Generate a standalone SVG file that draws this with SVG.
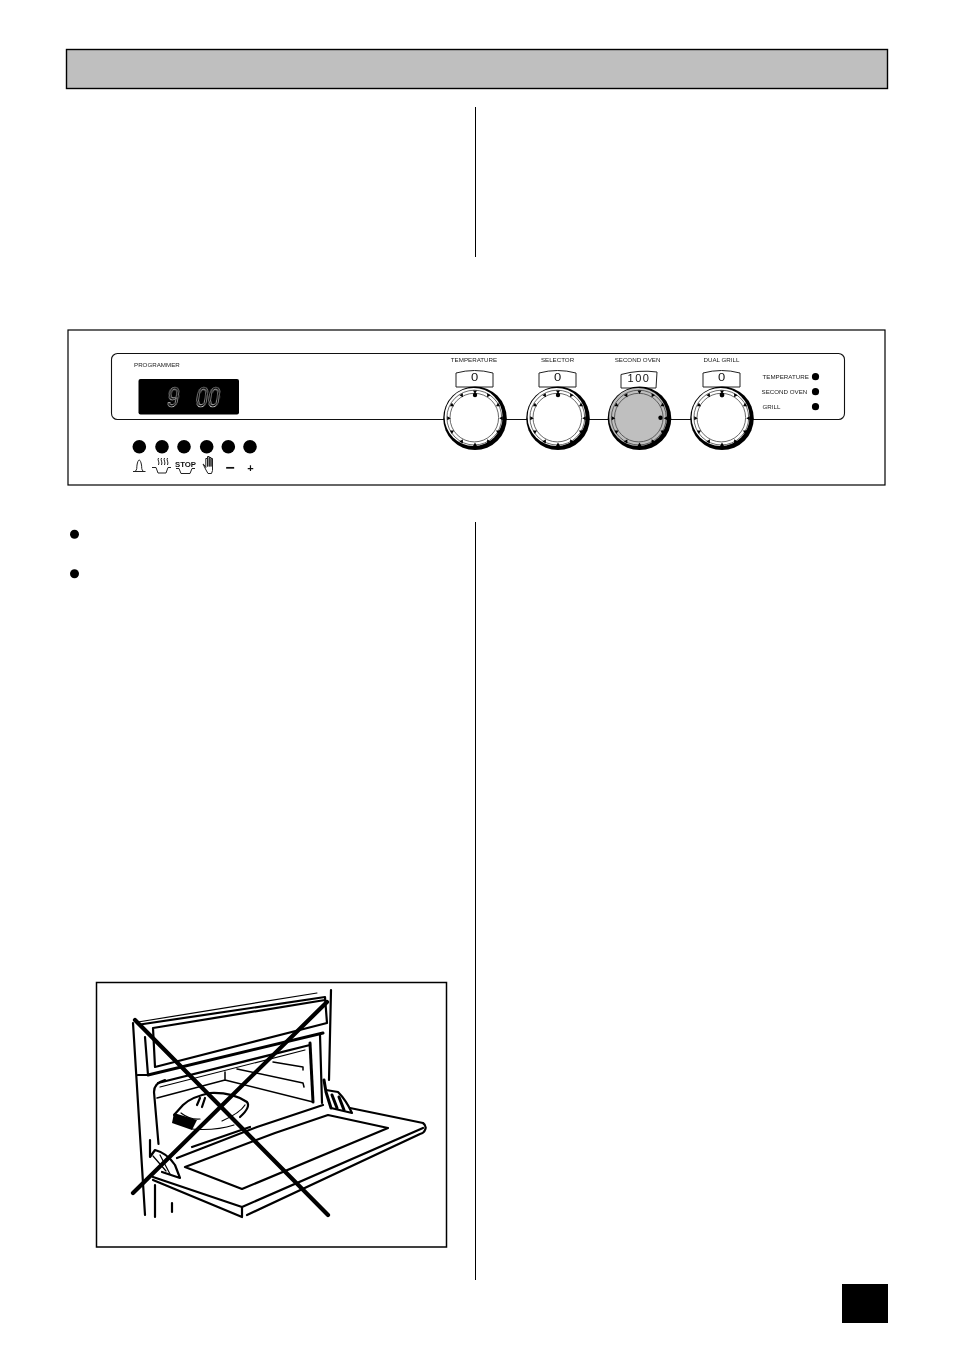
<svg xmlns="http://www.w3.org/2000/svg" xmlns:xlink="http://www.w3.org/1999/xlink" width="954" height="1351" viewBox="0 0 954 1351">
<style>
text{font-family:"Liberation Sans",Arial,sans-serif;fill:#111;filter:url(#gray)}
.lb{font-size:6.2px;fill:#222}
.mid{text-anchor:middle}
.ln{fill:none;stroke:#000;stroke-width:2.2;stroke-linecap:round;stroke-linejoin:round}
.th{fill:none;stroke:#000;stroke-width:1.2;stroke-linecap:round;stroke-linejoin:round}
.hv{fill:none;stroke:#000;stroke-width:3;stroke-linecap:round;stroke-linejoin:round}
.ic{fill:none;stroke:#222;stroke-width:1;stroke-linejoin:round}
.sc{fill:#fff;stroke:#222;stroke-width:1}
.xx{stroke:#000;stroke-width:4.2;stroke-linecap:round}
</style>
<defs>
<filter id="gray" x="-30%" y="-50%" width="160%" height="200%" color-interpolation-filters="sRGB"><feOffset dx="0" dy="0"/></filter>
<path id="t" d="M-2-27.800h4l-2 3.600z" fill="#000"/>
<g id="knob">
<circle r="31.800" fill="#000"/>
<circle cx="-1.400" cy="-1.400" r="29"/>
<circle cx="-.7" cy="-.7" r="27.400" fill="none" stroke="#444" stroke-width=".8"/>
<circle cx="-.7" cy="-.7" r="24.300" fill="none" stroke="#444" stroke-width=".8"/>
<use xlink:href="#t" href="#t" transform="rotate(0)"/>
<use xlink:href="#t" href="#t" transform="rotate(30)"/>
<use xlink:href="#t" href="#t" transform="rotate(60)"/>
<use xlink:href="#t" href="#t" transform="rotate(90)"/>
<use xlink:href="#t" href="#t" transform="rotate(120)"/>
<use xlink:href="#t" href="#t" transform="rotate(150)"/>
<use xlink:href="#t" href="#t" transform="rotate(180)"/>
<use xlink:href="#t" href="#t" transform="rotate(210)"/>
<use xlink:href="#t" href="#t" transform="rotate(240)"/>
<use xlink:href="#t" href="#t" transform="rotate(270)"/>
<use xlink:href="#t" href="#t" transform="rotate(300)"/>
<use xlink:href="#t" href="#t" transform="rotate(330)"/>
</g>
</defs>
<rect width="954" height="1351" fill="#fff"/>
<g id="header"><rect x="66.500" y="49.500" width="821" height="39" fill="#bfbfbf" stroke="#000" stroke-width="1.400"/></g>
<g id="dividers" stroke="#000" stroke-width="1">
<line x1="475.500" y1="107" x2="475.500" y2="257"/>
<line x1="475.500" y1="522" x2="475.500" y2="1280"/>
</g>
<g id="panel">
<rect x="68" y="330" width="817" height="155" fill="#fff" stroke="#000" stroke-width="1.200"/>
<rect x="111.500" y="353.500" width="733" height="66" rx="6" fill="none" stroke="#111" stroke-width="1.100"/>
<text class="lb" x="134" y="367">PROGRAMMER</text>
<rect x="138.500" y="379" width="100.500" height="35.500" rx="2" fill="#000"/>
<text transform="translate(166,407) skewX(-9) scale(.72,1)" font-size="30" style="fill:#000;stroke:#ddd;stroke-width:.7;word-spacing:15px">9 00</text>
</g>
<g id="buttons" fill="#000">
<circle cx="139.300" cy="446.700" r="6.800"/><circle cx="162" cy="446.700" r="6.800"/><circle cx="184" cy="446.700" r="6.800"/><circle cx="206.700" cy="446.700" r="6.800"/><circle cx="228.300" cy="446.700" r="6.800"/><circle cx="250" cy="446.700" r="6.800"/>
</g>
<g id="icons">
<path class="ic" d="M133 471.500h12.500M135 471.500c2.500-2 1.500-4 2-6.500c.5-3 1.300-5 2.200-5s1.800 2 2.300 5c.5 2.500-.5 4.500 2 6.500"/>
<path class="ic" d="M152 467.500h4l2 5.500h8l2-5.500h3M158.500 458c-1.500 2 1.500 4 0 7M161.500 458c-1.500 2 1.500 4 0 7M164.500 458c-1.500 2 1.500 4 0 7M167.500 458c-1.500 2 1.500 4 0 7"/>
<text x="185.500" y="466.500" class="mid" font-size="7.800" font-weight="bold">STOP</text>
<path class="ic" d="M176 468.500h3l2 5h9l2-5h3"/>
<path class="ic" d="M203 464l3 6l2 3.500h3.500l1-3v-12h-1.500v8v-9h-1.800v9v-10h-1.700v10v-8h-1.700v9l-2-3z"/>
<text x="230" y="473" class="mid" font-size="16" font-weight="bold">−</text>
<text x="250.500" y="472" class="mid" font-size="11" font-weight="bold">+</text>
</g>
<g id="knob-temperature">
<text class="lb mid" x="474" y="362">TEMPERATURE</text>
<path class="sc" d="M456 387v-14q18.500-5 37 0v14z"/>
<text transform="translate(474.500,381) scale(1.300,1)" class="mid" font-size="10">0</text>
<use xlink:href="#knob" href="#knob" x="475" y="418.300" fill="#fff"/>
<circle cx="475" cy="395" r="2.200" fill="#000"/>
</g>
<g id="knob-selector">
<text class="lb mid" x="557.500" y="362">SELECTOR</text>
<path class="sc" d="M539 387v-14q18.500-5 37 0v14z"/>
<text transform="translate(557.500,381) scale(1.300,1)" class="mid" font-size="10">0</text>
<use xlink:href="#knob" href="#knob" x="558" y="418.300" fill="#fff"/>
<circle cx="558" cy="395" r="2.200" fill="#000"/>
</g>
<g id="knob-second-oven">
<text class="lb mid" x="637.500" y="362">SECOND OVEN</text>
<path class="sc" d="M621 388v-13.500q18-5 36-2.500l-1 16z"/>
<text x="639" y="382" class="mid" font-size="11" letter-spacing="1.500">100</text>
<use xlink:href="#knob" href="#knob" x="639.500" y="418.300" fill="#bfbfbf"/>
<circle cx="660.500" cy="417.700" r="2.200" fill="#000"/>
</g>
<g id="knob-dual-grill">
<text class="lb mid" x="721.500" y="362">DUAL GRILL</text>
<path class="sc" d="M703 387v-14q18.500-5 37 0v14z"/>
<text transform="translate(721.500,381) scale(1.300,1)" class="mid" font-size="10">0</text>
<use xlink:href="#knob" href="#knob" x="722" y="418.300" fill="#fff"/>
<circle cx="722" cy="395" r="2.400" fill="#000"/>
</g>
<g id="indicators">
<text class="lb" x="762.500" y="379">TEMPERATURE</text><circle cx="815.500" cy="376.700" r="3.600" fill="#000"/>
<text class="lb" x="761.500" y="394">SECOND OVEN</text><circle cx="815.500" cy="391.700" r="3.600" fill="#000"/>
<text class="lb" x="762.500" y="409">GRILL</text><circle cx="815.500" cy="406.700" r="3.600" fill="#000"/>
</g>
<g id="bullets" fill="#000"><circle cx="74.500" cy="534.300" r="4.500"/><circle cx="74.500" cy="573.700" r="4.500"/></g>
<g id="oven-figure">
<rect x="96.500" y="982.500" width="350" height="264.500" fill="#fff" stroke="#000" stroke-width="1.500"/>
<g id="door-top">
<path class="ln" d="M133 1023L145 1215M145 1037L148 1075H138M155 1217V1185"/>
<path class="th" d="M138 1022L317 993"/>
<path class="ln" d="M140 1024.500L325 997L327 1023L155 1067L153 1028L325 1000"/>
<path class="hv" d="M148 1075L323 1033"/>
<path class="ln" d="M158 1083L310 1045"/>
<path class="th" d="M160 1087L305 1050"/>
<path class="ln" d="M165 1080Q154 1083 154 1092L158.500 1144"/>
<path class="ln" d="M331 990L329 1080"/>
</g>
<g id="oven-cavity">
<path class="th" d="M157 1098L225 1080L313 1102M225 1072V1080M237 1069L303 1083L304 1087M273 1062L303 1067V1070" style="stroke-width:1.500"/>
<path class="hv" d="M310 1043L313 1102"/>
<path class="ln" d="M320 1035L322 1103"/>
</g>
<g id="dish">
<path class="ln" d="M174 1115L183 1105Q191 1097 210 1093Q232 1092 247 1102Q251 1107 240 1117"/>
<path d="M174 1113L172 1123L192 1130L197 1120Z" fill="#000"/>
<path class="th" d="M192 1129Q215 1131 234 1125M181 1113Q190 1120 200 1119M222 1121Q240 1113 245 1105"/>
<path class="ln" d="M200 1098L197 1105M205 1098L202 1107"/>
</g>
<g id="door">
<path class="ln" d="M177 1158L257 1127L323 1105M192 1147L250 1127"/>
<path class="ln" d="M185 1167L275 1133L328 1115L388 1128L242 1189Z"/>
<path class="ln" d="M350 1108L423 1123Q427 1126 425 1130Q424 1133 420 1134L247 1215"/>
<path class="ln" d="M423 1128L242 1207L153 1177M153 1180L242 1217V1207"/>
<path class="ln" d="M172 1203V1212"/>
</g>
<g id="hinges">
<path class="ln" d="M150 1140V1157L155 1150Q167 1153 175 1165L180 1178L162 1172"/>
<path class="th" d="M153 1156L166 1171M160 1155L170 1174"/>
<path class="hv" d="M324 1080L326 1092L331 1108"/>
<path class="ln" d="M326 1090L338 1092Q346 1100 352 1113L331 1108"/>
<path class="hv" d="M332 1095L337 1108M339 1097L344 1110"/>
</g>
<g id="cross"><line class="xx" x1="135" y1="1020" x2="328" y2="1215"/><line class="xx" x1="133" y1="1193" x2="327" y2="1002"/></g>
</g>
<g id="page-number"><rect x="842" y="1284" width="46" height="39" fill="#000"/></g>
</svg>
